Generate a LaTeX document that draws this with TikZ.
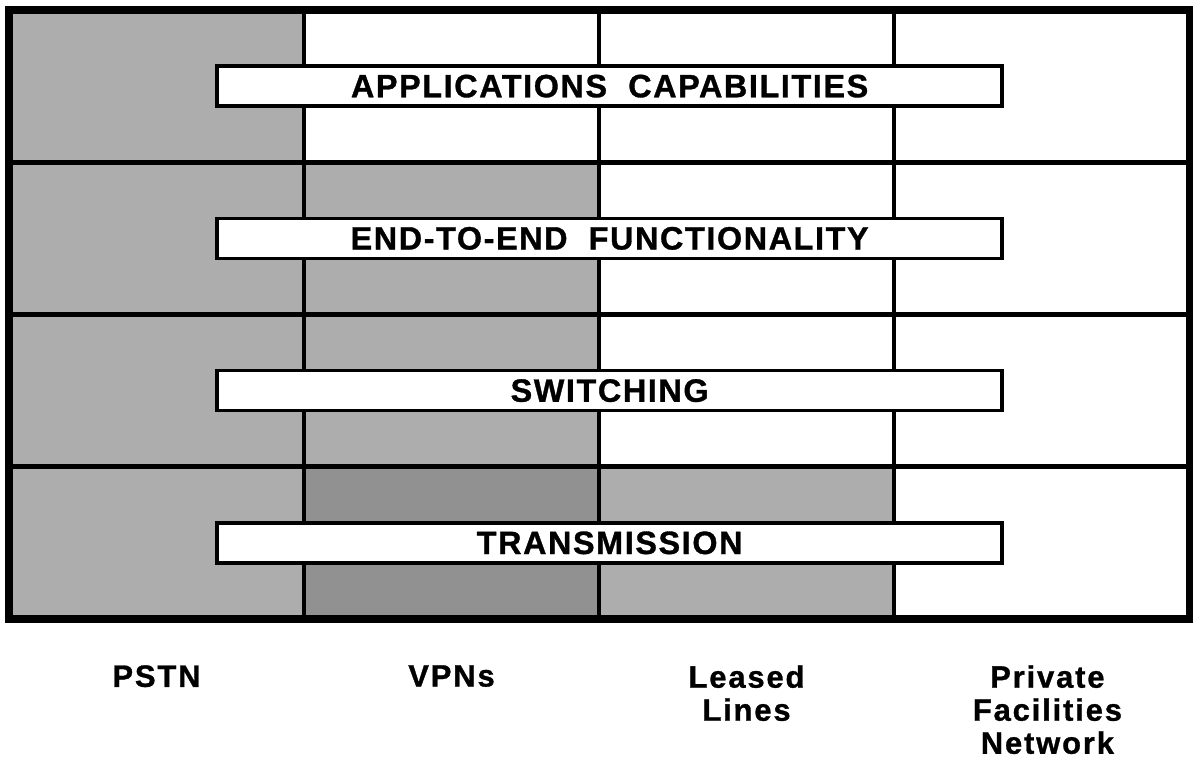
\documentclass[tikz,border=0pt]{standalone}
\usepackage{fontspec}
\newfontfamily\layerfont[UprightFont={* Bold},LetterSpace=5,FakeBold=1]{Liberation Sans}
\newfontfamily\netfont[UprightFont={* Bold},LetterSpace=6,FakeBold=1]{Liberation Sans}
\definecolor{cellgray}{gray}{0.68}
\definecolor{celldark}{gray}{0.57}
\newcommand{\cellg}[4]{\fill[cellgray] ( #1 , #2 ) rectangle ( #3 , #4 );}
\newcommand{\celld}[4]{\fill[celldark] ( #1 , #2 ) rectangle ( #3 , #4 );}
\begin{document}
\begin{tikzpicture}[x=7.375cm, y=3.80625cm,
    layer/.style={draw, line width=2.5pt, fill=white, minimum width=19.625cm, minimum height=1cm, inner sep=0pt,
        font={\layerfont\fontsize{23}{26}\selectfont}},
    net/.style={anchor=north, align=center, inner sep=0pt,
        font={\netfont\fontsize{22}{23.5}\selectfont}}]
        \useasboundingbox (-0.225cm,-3.625cm) rectangle (29.625cm,15.475cm);
        % shaded cells
        \cellg{0}{0}{1}{4}
        \cellg{1}{1}{2}{3}
        \celld{1}{0}{2}{1}
        \cellg{2}{0}{3}{1}
        % grid
        \draw[line width=3.5pt] (1,0) -- (1,4) (2,0) -- (2,4) (3,0) -- (3,4);
        \draw[line width=3.5pt] (0,1) -- (4,1) (0,2) -- (4,2) (0,3) -- (4,3);
        % frame
        \draw[line width=5pt] (0,0) rectangle (4,4);
        % layers
        \node[layer] (apps) at (2.036,3.5) {APPLICATIONS\ \ CAPABILITIES};
        \node[layer] (endtoend) at (2.036,2.5) {END-TO-END\ \ FUNCTIONALITY};
        \node[layer] (switching) at (2.036,1.5) {SWITCHING};
        \node[layer] (transmission) at (2.036,0.5) {TRANSMISSION};
        % networks
        \node[net] (pstn) at (0.5,-0.302) {PSTN};
        \node[net] (vpns) at (1.5,-0.302) {VPNs};
        \node[net] (leased) at (2.5,-0.302) {Leased\\Lines};
        \node[net] (private) at (3.52,-0.302) {Private\\Facilities\\Network};
\end{tikzpicture}
\end{document}
